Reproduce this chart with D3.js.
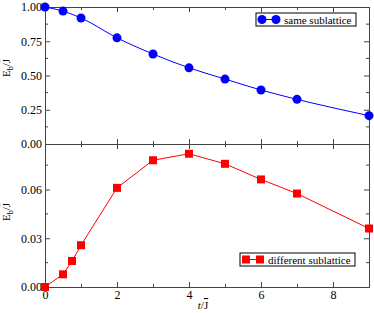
<!DOCTYPE html>
<html>
<head>
<meta charset="utf-8">
<script src="https://cdn.jsdelivr.net/npm/d3@7"></script>
<style>
  body { margin: 0; background: #fff; }
  svg text { font-family: "Liberation Serif", "Times New Roman", Times, serif; }
</style>
</head>
<body>
<svg id="chart" width="374" height="313"></svg>
<script>
// same sublattice
var tSame = [0, 0.5, 1, 2, 3, 4, 5, 6, 7, 9];
var eSame = [1.0, 0.97, 0.92, 0.775, 0.657, 0.556, 0.474, 0.394, 0.326, 0.207];
// different sublattice
var tDiff = [0, 0.5, 0.75, 1, 2, 3, 4, 5, 6, 7, 9];
var eDiff = [0, 0.0078, 0.016, 0.0257, 0.061, 0.078, 0.082, 0.0758, 0.0662, 0.0575, 0.036];

var xTicks = [0, 2, 4, 6, 8];
var topTicks = [0, 0.25, 0.5, 0.75, 1.0];
var botTicks = [0, 0.03, 0.06];

var svg = d3.select("#chart");
var pLeft = 45, pRight = 369, pTop = 7, pMid = 144, pBottom = 287;
var frame = "#444";
var serif = "Liberation Serif, Times New Roman, serif";

var x = d3.scaleLinear().domain([0, 9]).range([pLeft, pRight]);
var yTop = d3.scaleLinear().domain([0, 1.0]).range([pMid, pTop]);
var yBot = d3.scaleLinear().domain([0, 0.088]).range([pBottom, pMid]);

var sameData = tSame.map(function (t, i) { return {x: t, y: eSame[i]}; });
var diffData = tDiff.map(function (t, i) { return {x: t, y: eDiff[i]}; });

function drawPanel(y, y0, y1, major, minorStep, showX)
{
  var g = svg.append("g");
  var minor = d3.range(0, y.domain()[1] + 1e-9, minorStep).filter(function (v) {
    return !major.some(function (m) { return Math.abs(m - v) < 1e-9; });
  });
  // left axis
  var la = g.append("g").attr("transform", "translate(" + pLeft + ",0)")
    .call(d3.axisLeft(y).tickValues(major).tickSize(-5).tickPadding(3).tickFormat(d3.format(".2f")));
  la.append("g").selectAll("line").data(minor).enter().append("line")
    .attr("x1", 0).attr("x2", 3).attr("y1", y).attr("y2", y).attr("stroke", frame);
  // right axis
  var ra = g.append("g").attr("transform", "translate(" + pRight + ",0)")
    .call(d3.axisRight(y).tickValues(major).tickSize(-5).tickFormat(""));
  ra.append("g").selectAll("line").data(minor).enter().append("line")
    .attr("x1", 0).attr("x2", -3).attr("y1", y).attr("y2", y).attr("stroke", frame);
  // top and bottom edges, a tick at every integer
  var allX = d3.range(1, 10);
  var ba = g.append("g").attr("transform", "translate(0," + y0 + ")")
    .call(d3.axisBottom(x).tickValues(allX).tickSize(-5).tickFormat(""));
  var ta = g.append("g").attr("transform", "translate(0," + y1 + ")")
    .call(d3.axisTop(x).tickValues(allX).tickSize(-5).tickFormat(""));
  if (showX) {
    g.append("g").attr("transform", "translate(0," + y0 + ")")
      .call(d3.axisBottom(x).tickValues(xTicks).tickSize(0).tickPadding(3).tickFormat(d3.format("d")))
      .select(".domain").remove();
  }
  g.selectAll("g").attr("font-family", serif);
  g.selectAll(".domain").attr("stroke", frame);
  g.selectAll(".tick line").attr("stroke", frame);
  g.selectAll(".tick text").attr("font-size", 12).attr("fill", "#000");
  ba.selectAll(".tick line").attr("y2", function (d) { return d % 2 ? -3 : -5; });
  ta.selectAll(".tick line").attr("y2", function (d) { return d % 2 ? 3 : 5; });
}

drawPanel(yTop, pMid, pTop, topTicks, 0.125, false);
drawPanel(yBot, pBottom, pMid, botTicks, 0.015, true);

var line = d3.line().x(function (d) { return x(d.x); });

// same sublattice curve
svg.append("path").datum(sameData)
  .attr("d", line.y(function (d) { return yTop(d.y); }).curve(d3.curveMonotoneX))
  .attr("fill", "none").attr("stroke", "#0000ff").attr("stroke-width", 1);
svg.selectAll(".same").data(sameData).enter().append("circle")
  .attr("class", "same")
  .attr("cx", function (d) { return x(d.x); })
  .attr("cy", function (d) { return yTop(d.y); })
  .attr("r", 4.5).attr("fill", "#0000ff");

// different sublattice curve
svg.append("path").datum(diffData)
  .attr("d", line.y(function (d) { return yBot(d.y); }).curve(d3.curveLinear))
  .attr("fill", "none").attr("stroke", "#ff0000").attr("stroke-width", 1);
svg.selectAll(".diff").data(diffData).enter().append("rect")
  .attr("class", "diff")
  .attr("x", function (d) { return x(d.x) - 4; })
  .attr("y", function (d) { return yBot(d.y) - 4; })
  .attr("width", 8).attr("height", 8).attr("fill", "#ff0000");

// legends
function legend(x0, y0, w, color, square, label)
{
  var g = svg.append("g");
  g.append("rect").attr("x", x0).attr("y", y0).attr("width", w).attr("height", 13)
    .attr("fill", "#fff").attr("stroke", "#000").attr("stroke-width", 1);
  g.append("line").attr("x1", x0 + 6).attr("x2", x0 + 20).attr("y1", y0 + 6.5).attr("y2", y0 + 6.5)
    .attr("stroke", color);
  [x0 + 6, x0 + 20].forEach(function (cx) {
    if (square) {
      g.append("rect").attr("x", cx - 4).attr("y", y0 + 2.5).attr("width", 8).attr("height", 8).attr("fill", color);
    } else {
      g.append("circle").attr("cx", cx).attr("cy", y0 + 6.5).attr("r", 4.5).attr("fill", color);
    }
  });
  g.append("text").attr("x", x0 + 28).attr("y", y0 + 10.5).attr("font-size", 11).text(label);
}
legend(256, 13, 100, "#0000ff", false, "same sublattice");
legend(240, 253, 115, "#ff0000", true, "different sublattice");

// axis titles
function yTitle(cx, cy)
{
  var t = svg.append("text").attr("transform", "translate(" + cx + "," + cy + ") rotate(-90)")
    .attr("text-anchor", "middle").attr("font-size", 11);
  t.append("tspan").text("E");
  t.append("tspan").attr("font-size", 8).attr("dy", 3).text("b");
  t.append("tspan").attr("dy", -3).text("/");
  t.append("tspan").style("text-decoration", "overline").text("J");
}
yTitle(10, 68);
yTitle(10, 212);

var xt = svg.append("text").attr("x", 203).attr("y", 309).attr("text-anchor", "middle").attr("font-size", 11);
xt.append("tspan").attr("font-style", "italic").text("t");
xt.append("tspan").text("/");
xt.append("tspan").style("text-decoration", "overline").text("J");
</script>
</body>
</html>
